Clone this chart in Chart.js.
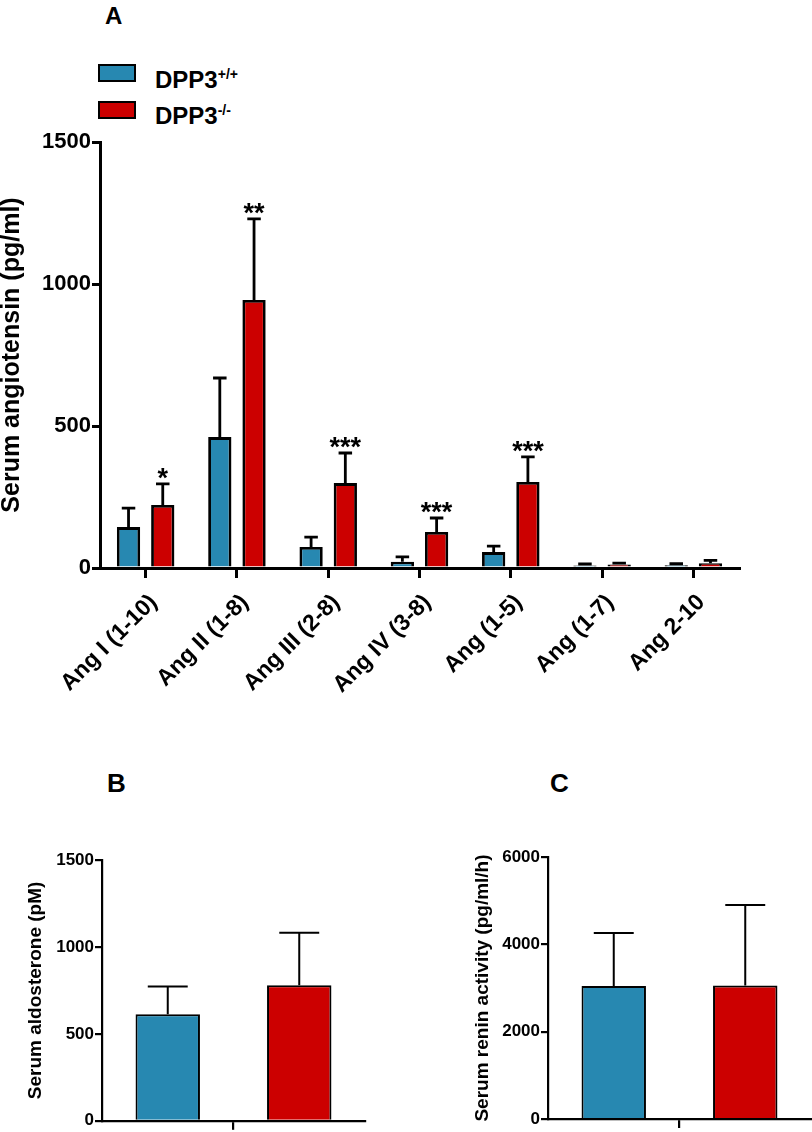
<!DOCTYPE html>
<html>
<head>
<meta charset="utf-8">
<script src="https://cdn.jsdelivr.net/npm/chart.js@4.4.0/dist/chart.umd.min.js"></script>
<style>
html,body{margin:0;padding:0;background:#fff;}
body{width:812px;height:1132px;position:relative;overflow:hidden;font-family:"Liberation Sans",Arial,sans-serif;color:#000;}
.cv{position:absolute;}
.letter{position:absolute;font-weight:bold;line-height:1;}
.leg{position:absolute;font-weight:bold;font-size:24px;line-height:1;white-space:nowrap;}
.leg sup{font-size:14px;vertical-align:0;position:relative;top:-9px;}
.swatch{position:absolute;box-sizing:border-box;width:38px;height:18px;border:2.5px solid #000;}
</style>
</head>
<body>
<div class="letter" style="left:105px;top:4px;font-size:24px;">A</div>
<div class="swatch" style="left:98px;top:64px;background:#2788b1;"></div>
<div class="leg" style="left:155px;top:68px;">DPP3<sup>+/+</sup></div>
<div class="swatch" style="left:98px;top:101px;background:#cc0000;"></div>
<div class="leg" style="left:155px;top:104px;">DPP3<sup>-/-</sup></div>
<div class="letter" style="left:107px;top:770px;font-size:26px;">B</div>
<div class="letter" style="left:550px;top:770px;font-size:26px;">C</div>

<canvas id="cA" class="cv" style="left:0;top:0;width:812px;height:740px;"></canvas>
<canvas id="cB" class="cv" style="left:0;top:800px;width:400px;height:332px;"></canvas>
<canvas id="cC" class="cv" style="left:400px;top:800px;width:412px;height:332px;"></canvas>

<script>
// ---------- Data ----------
const categoriesA = ['Ang I (1-10)', 'Ang II (1-8)', 'Ang III (2-8)', 'Ang IV (3-8)', 'Ang (1-5)', 'Ang (1-7)', 'Ang 2-10'];
const wtMeanA = [144, 461, 74, 22, 56, 9, 10];
const wtSemA  = [67, 208, 35, 17, 21, 5, 5];
const koMeanA = [222, 944, 299, 127, 303, 12, 17];
const koSemA  = [74, 285, 106, 49, 88, 5, 10];
const significanceA = ['*', '**', '***', '***', '***', '', ''];
const yTicksA = [0, 500, 1000, 1500];

const seriesNames = ['DPP3+/+', 'DPP3-/-'];
const wtMeanB = [613];
const wtSemB  = [160];
const koMeanB = [779];
const koSemB  = [303];
const yTicksB = [0, 500, 1000, 1500];

const wtMeanC = [3046];
const wtSemC  = [1214];
const koMeanC = [3060];
const koSemC  = [1841];
const yTicksC = [0, 2000, 4000, 6000];

const BLUE = '#2788b1';
const RED = '#cc0000';
const FONT = '"Liberation Sans", Arial, sans-serif';

// ---------- Plugins ----------
const errorBarPlugin = {
  id: 'errorBars',
  afterDatasetsDraw(chart, args, opts) {
    const ctx = chart.ctx;
    const y = chart.scales.y;
    ctx.save();
    ctx.strokeStyle = '#000';
    ctx.lineWidth = opts.lineWidth || 2.5;
    ctx.lineCap = 'butt';
    chart.data.datasets.forEach((ds, di) => {
      const meta = chart.getDatasetMeta(di);
      meta.data.forEach((bar, i) => {
        const sem = ds.sem[i];
        const mean = ds.data[i];
        const x = bar.x;
        const yTop = y.getPixelForValue(mean + sem);
        const yBase = y.getPixelForValue(mean);
        const cap = bar.width * (opts.capRatio || 0.58);
        ctx.beginPath();
        ctx.moveTo(x, yBase);
        ctx.lineTo(x, yTop);
        ctx.moveTo(x - cap / 2, yTop);
        ctx.lineTo(x + cap / 2, yTop);
        ctx.stroke();
        if (ds.sig && ds.sig[i]) {
          ctx.fillStyle = '#000';
          ctx.font = 'bold 27px ' + FONT;
          ctx.textAlign = 'center';
          ctx.textBaseline = 'alphabetic';
          ctx.fillText(ds.sig[i], x, yTop + 3);
        }
      });
    });
    ctx.restore();
  }
};

function makeChart(id, cfg) {
  return new Chart(document.getElementById(id), {
    type: 'bar',
    data: {
      labels: cfg.labels,
      datasets: [
        { label: seriesNames[0], data: cfg.wt, sem: cfg.wtSem, backgroundColor: BLUE, borderColor: '#000', borderWidth: cfg.bw,
          categoryPercentage: cfg.catPct, barPercentage: cfg.barPct },
        { label: seriesNames[1], data: cfg.ko, sem: cfg.koSem, sig: cfg.sig, backgroundColor: RED, borderColor: '#000', borderWidth: cfg.bw,
          categoryPercentage: cfg.catPct, barPercentage: cfg.barPct }
      ]
    },
    options: {
      responsive: false,
      animation: false,
      devicePixelRatio: 1,
      layout: { padding: cfg.padding },
      plugins: {
        legend: { display: false },
        tooltip: { enabled: false },
        errorBars: { lineWidth: cfg.elw, capRatio: cfg.capRatio }
      },
      scales: {
        x: {
          offset: true,
          grid: { display: true, offset: false, drawOnChartArea: false, drawTicks: true, tickLength: cfg.xTickLen, color: '#000', lineWidth: cfg.axisW },
          border: { display: true, color: '#000', width: cfg.axisW },
          ticks: {
            display: cfg.showX,
            autoSkip: false, minRotation: cfg.rot, maxRotation: cfg.rot,
            padding: cfg.xPad, labelOffset: cfg.xLabelOffset || 0,
            color: '#000',
            font: { family: FONT, size: cfg.xFont, weight: 'bold' }
          },
          afterFit: (s) => { s.height = cfg.xHeight; }
        },
        y: {
          min: cfg.yTicks[0], max: cfg.yTicks[cfg.yTicks.length - 1],
          afterBuildTicks: (s) => { s.ticks = cfg.yTicks.map(v => ({ value: v })); },
          grid: { display: true, drawOnChartArea: false, drawTicks: true, tickLength: cfg.yTickLen, color: '#000', lineWidth: cfg.axisW },
          border: { display: true, color: '#000', width: cfg.axisW },
          ticks: { color: '#000', padding: 1, font: { family: FONT, size: cfg.yFont, weight: 'bold' },
            callback: (v) => String(v) },
          title: { display: true, text: cfg.yTitle, color: '#000', padding: { top: cfg.titlePad, bottom: 0 },
            font: { family: FONT, size: cfg.titleFont, weight: 'bold', lineHeight: 1 } },
          afterFit: (s) => { s.width = cfg.yWidth; }
        }
      }
    },
    plugins: [errorBarPlugin]
  });
}

// Canvas sizes
function size(id, w, h) { const c = document.getElementById(id); c.width = w; c.height = h; }
size('cA', 812, 740); size('cB', 400, 332); size('cC', 412, 332);

makeChart('cA', {
  labels: categoriesA, wt: wtMeanA, wtSem: wtSemA, ko: koMeanA, koSem: koSemA, sig: significanceA,
  yTicks: yTicksA, yTitle: 'Serum angiotensin (pg/ml)',
  padding: { left: 0, top: 142, right: 73, bottom: 0 },
  yWidth: 100, xHeight: 172, catPct: 0.75, barPct: 0.68, bw: 2.8, elw: 2.8, capRatio: 0.58,
  axisW: 3, xTickLen: 10, yTickLen: 8, showX: true, rot: 45, xPad: 11, xLabelOffset: 8, xFont: 23, yFont: 22,
  titleFont: 25, titlePad: 0
});

makeChart('cB', {
  labels: [''], wt: wtMeanB, wtSem: wtSemB, ko: koMeanB, koSem: koSemB, sig: null,
  yTicks: yTicksB, yTitle: 'Serum aldosterone (pM)',
  padding: { left: 0, top: 60, right: 35, bottom: 0 },
  yWidth: 102, xHeight: 10, catPct: 1.0, barPct: 0.49, bw: 2, elw: 2, capRatio: 0.62,
  axisW: 2.2, xTickLen: 9, yTickLen: 7, showX: false, rot: 0, xPad: 0, xFont: 17, yFont: 17,
  titleFont: 19, titlePad: 26
});

makeChart('cC', {
  labels: [''], wt: wtMeanC, wtSem: wtSemC, ko: koMeanC, koSem: koSemC, sig: null,
  yTicks: yTicksC, yTitle: 'Serum renin activity (pg/ml/h)',
  padding: { left: 0, top: 57, right: 1, bottom: 0 },
  yWidth: 148, xHeight: 13, catPct: 1.0, barPct: 0.49, bw: 2, elw: 2, capRatio: 0.62,
  axisW: 2.2, xTickLen: 9, yTickLen: 7, showX: false, rot: 0, xPad: 0, xFont: 17, yFont: 17,
  titleFont: 19, titlePad: 73
});
</script>
</body>
</html>
